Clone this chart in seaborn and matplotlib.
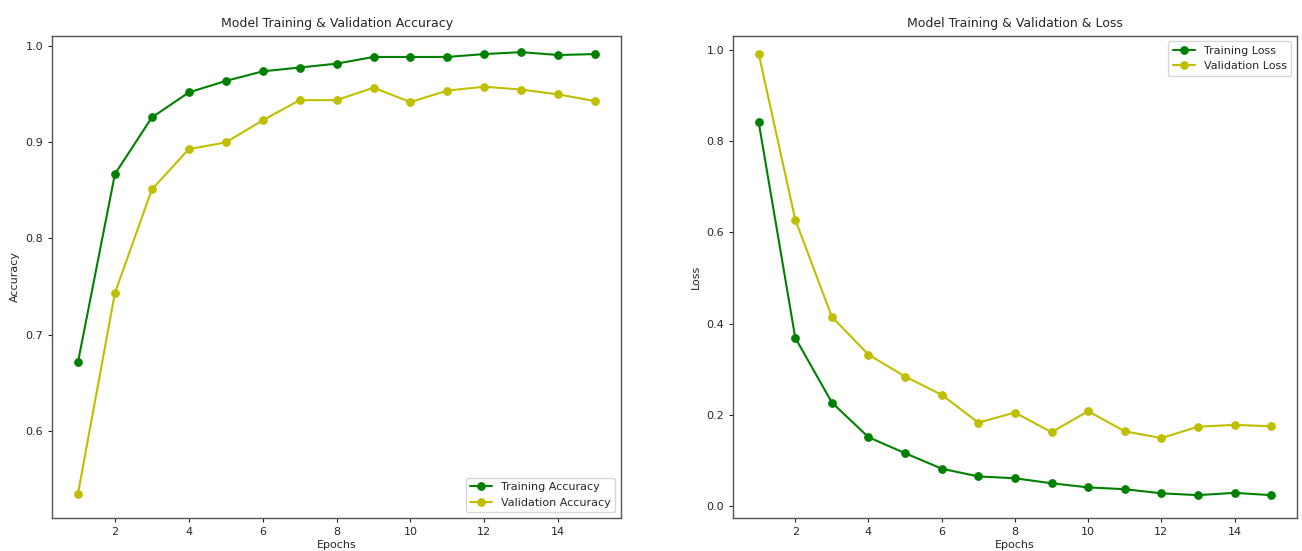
import pandas as pd
import matplotlib
matplotlib.use("Agg")
import matplotlib.pyplot as plt
import seaborn as sns

# Valores
epochs = list(range(1, 16))
train_acc = [0.671, 0.867, 0.926, 0.952, 0.964, 0.974, 0.978, 0.982,
             0.989, 0.989, 0.989, 0.992, 0.994, 0.991, 0.992]
val_acc = [0.534, 0.743, 0.851, 0.893, 0.900, 0.923, 0.944, 0.944,
           0.957, 0.942, 0.954, 0.958, 0.955, 0.950, 0.943]
train_loss = [0.842, 0.369, 0.227, 0.151, 0.116, 0.082, 0.065, 0.061,
              0.050, 0.041, 0.037, 0.028, 0.024, 0.029, 0.024]
val_loss = [0.992, 0.628, 0.415, 0.332, 0.284, 0.244, 0.183, 0.205,
            0.162, 0.208, 0.164, 0.149, 0.174, 0.178, 0.175]

sns.set_style("white")
plt.rcParams['font.family'] = ['DejaVu Sans']
plt.rcParams['font.size'] = 8

fig = plt.figure(figsize=(13.02, 5.51), dpi=100)
ax1 = fig.add_axes([0.040, 0.060, 0.437, 0.875])
ax2 = fig.add_axes([0.563, 0.060, 0.433, 0.875])

green = '#008000'
yellow = '#bfbf00'

def draw(ax, train, val, train_label, val_label, ylabel, title, loc, ylim):
    sns.lineplot(x=epochs, y=train, ax=ax, color=green, marker='o',
                 markersize=5.5, markeredgecolor=green, linewidth=1.5,
                 label=train_label)
    sns.lineplot(x=epochs, y=val, ax=ax, color=yellow, marker='o',
                 markersize=5.5, markeredgecolor=yellow, linewidth=1.5,
                 label=val_label)
    ax.set_title(title, fontsize=9)
    ax.set_xlabel('Epochs', fontsize=8, labelpad=2)
    ax.set_ylabel(ylabel, fontsize=8)
    ax.set_xticks([2, 4, 6, 8, 10, 12, 14])
    ax.set_ylim(*ylim)
    ax.tick_params(axis='both', labelsize=8, length=3, left=True, bottom=True)
    for s in ax.spines.values():
        s.set_color('#555555')
        s.set_linewidth(1.0)
    ax.legend(loc=loc, fontsize=8, frameon=True)

draw(ax1, train_acc, val_acc, 'Training Accuracy', 'Validation Accuracy',
     'Accuracy', 'Model Training & Validation Accuracy', 'lower right',
     (0.509, 1.011))
draw(ax2, train_loss, val_loss, 'Training Loss', 'Validation Loss',
     'Loss', 'Model Training & Validation & Loss', 'upper right',
     (-0.026, 1.031))

fig.savefig('out.png', dpi=100)
